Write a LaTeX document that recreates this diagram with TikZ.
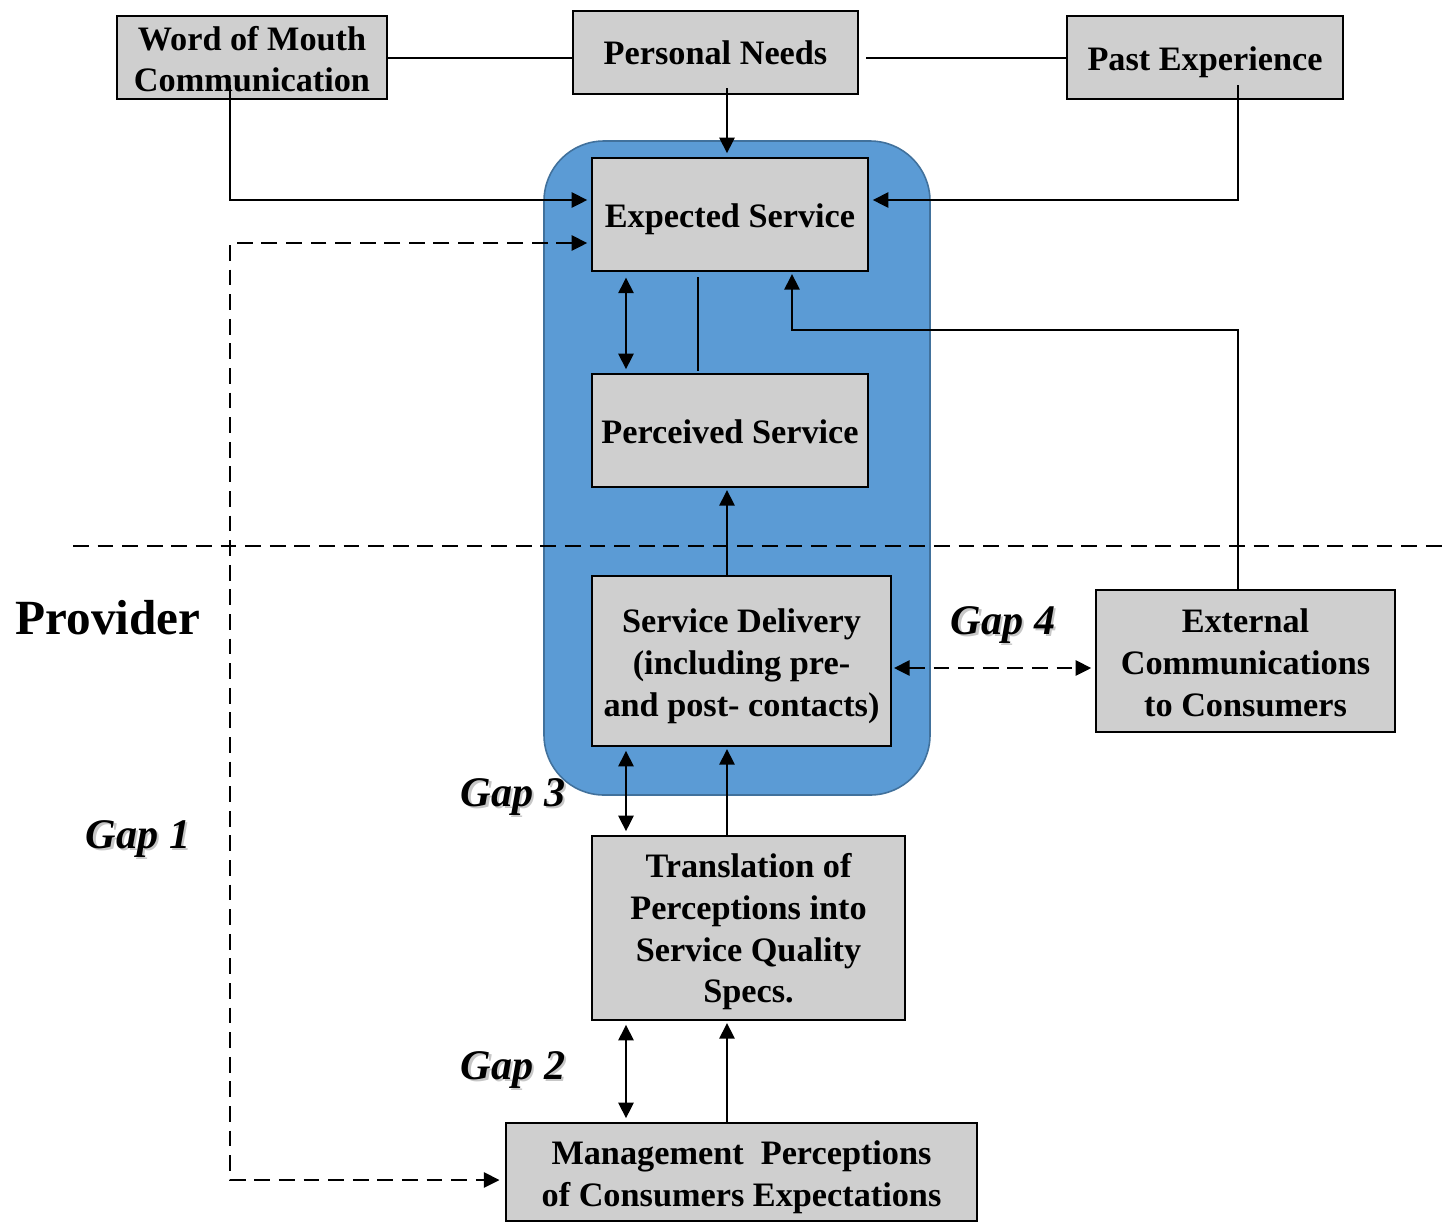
\documentclass[tikz,border=0pt]{standalone}
\usepackage{fontspec}
\setmainfont{Liberation Serif}
\usetikzlibrary{arrows.meta,calc}
\definecolor{boxgray}{HTML}{CFCFCF}
\definecolor{bluefill}{HTML}{5B9BD5}
\definecolor{blueedge}{HTML}{41719C}
\newcommand\shtext[1]{\makebox[0pt][l]{\hspace{1.3pt}\raisebox{-1.3pt}{\textcolor{black!22}{#1}}}#1}
\newcommand\lowtxt[2]{\raisebox{-#1}[\height][\depth]{\begin{tabular}{@{}c@{}}#2\end{tabular}}}
\tikzset{
  gbox/.style={draw=black, fill=boxgray, line width=1.3pt, inner sep=0pt, align=center,
    font=\bfseries\fontsize{19.5}{23.8}\selectfont},
  conn/.style={line width=1.65pt},
  tip/.style={-{Triangle[length=9pt,width=8.5pt]}},
  tips/.style={{Triangle[length=9pt,width=8.5pt]}-{Triangle[length=9pt,width=8.5pt]}},
  dsh/.style={dash pattern=on 9pt off 5pt},
  gaplbl/.style={font=\bfseries\itshape\fontsize{24}{28}\selectfont, inner sep=0pt},
}
\begin{document}
\begin{tikzpicture}[x=0.02cm,y=-0.02cm]
\useasboundingbox (0,0) rectangle (1448,1225);
% blue area
\draw[fill=bluefill, draw=blueedge, line width=0.9pt, rounded corners=1.2cm] (544,141) rectangle (930,795);
% separator
\draw[conn, dsh] (73,546) -- (1448,546);
% boxes
\node[gbox, minimum width=5.40cm, minimum height=1.66cm] (wom) at (252,57.5) {\lowtxt{2.9pt}{Word of Mouth\\Communication}};
\node[gbox, minimum width=5.70cm, minimum height=1.66cm] (pn) at (715.5,52.5) {\lowtxt{2.3pt}{Personal Needs}};
\node[gbox, minimum width=5.52cm, minimum height=1.66cm] (pe) at (1205,57.5) {\lowtxt{2.8pt}{Past Experience}};
\node[gbox, minimum width=5.52cm, minimum height=2.26cm] (es) at (730,214.5) {\lowtxt{2.8pt}{Expected Service}};
\node[gbox, minimum width=5.52cm, minimum height=2.26cm] (ps) at (730,430.5) {\lowtxt{2.9pt}{Perceived Service}};
\node[gbox, minimum width=5.98cm, minimum height=3.40cm] (sd) at (741.5,661) {\lowtxt{2.8pt}{Service Delivery\\(including pre-\\and post- contacts)}};
\node[gbox, minimum width=5.98cm, minimum height=2.84cm] (ec) at (1245.5,661) {\lowtxt{2.8pt}{External\\Communications\\to Consumers}};
\node[gbox, minimum width=6.26cm, minimum height=3.68cm] (tr) at (748.5,928) {\lowtxt{2.2pt}{Translation of\\Perceptions into\\Service Quality\\Specs.}};
\node[gbox, minimum width=9.42cm, minimum height=1.96cm] (mg) at (741.5,1172) {\lowtxt{2.8pt}{Management\ \ Perceptions\\of Consumers Expectations}};
% labels
\node[font=\bfseries\fontsize{28}{32}\selectfont, inner sep=0pt] (prov) at (108,618) {Provider};
\node[gaplbl] (g1) at (138,840) {\shtext{Gap 1}};
\node[gaplbl] (g2) at (513,1071) {\shtext{Gap 2}};
\node[gaplbl] (g3) at (513,798) {\shtext{Gap 3}};
\node[gaplbl] (g4) at (1003,626) {\shtext{Gap 4}};
% helper coordinates
\coordinate (colA) at (626,0);
\coordinate (colB) at (727,0);
\coordinate (colC) at (698,0);
\coordinate (peX) at (1238,0);
\coordinate (womX) at (230,0);
\coordinate (turn) at (792,330);
\coordinate (lvl1) at (0,200);
\coordinate (dashTop) at (230,243);
\coordinate (dashBot) at (230,1180);
% top connectors
\draw[conn] (wom.east |- 0,58) -- (pn.west |- 0,58);
\draw[conn] ([xshift=0.14cm]pn.east |- 0,58) -- (pe.west |- 0,58);
\draw[conn, tip] (womX |- 0,85) |- ([xshift=-2pt]es.west |- lvl1);
\draw[conn, tip] (peX |- 0,85) |- ([xshift=2pt]es.east |- lvl1);
\draw[conn, tip] (colB |- 0,88) -- ([yshift=2pt]es.north -| colB);
% expected / perceived
\draw[conn, tips, shorten <=3pt, shorten >=2pt] (es.south -| colA) -- (ps.north -| colA);
\draw[conn, shorten <=3pt, shorten >=1pt] (es.south -| colC) -- (ps.north -| colC);
\draw[conn, tip, shorten >=1pt] (ec.north -| peX) |- (turn) -- (es.south -| turn);
\draw[conn, tip, shorten >=1pt] (sd.north -| colB) -- (ps.south -| colB);
% gap 4
\draw[conn, dsh, tips, shorten <=1pt, shorten >=2pt] ([yshift=-0.14cm]sd.east) -- ([yshift=-0.14cm]ec.west);
% gap 3
\draw[conn, tips, shorten <=2pt, shorten >=2pt] (tr.north -| colA) -- (sd.south -| colA);
\draw[conn, tip, shorten >=1pt] (tr.north -| colB) -- (sd.south -| colB);
% gap 2
\draw[conn, tips, shorten <=2pt, shorten >=2pt] (mg.north -| colA) -- (tr.south -| colA);
\draw[conn, tip, shorten >=1pt] (mg.north -| colB) -- (tr.south -| colB);
% gap 1
\draw[conn, dsh, tips, shorten <=2pt, shorten >=3pt] (dashTop -| es.west) -- (dashTop) -- (dashBot) -- (dashBot -| mg.west);
\end{tikzpicture}
\end{document}
